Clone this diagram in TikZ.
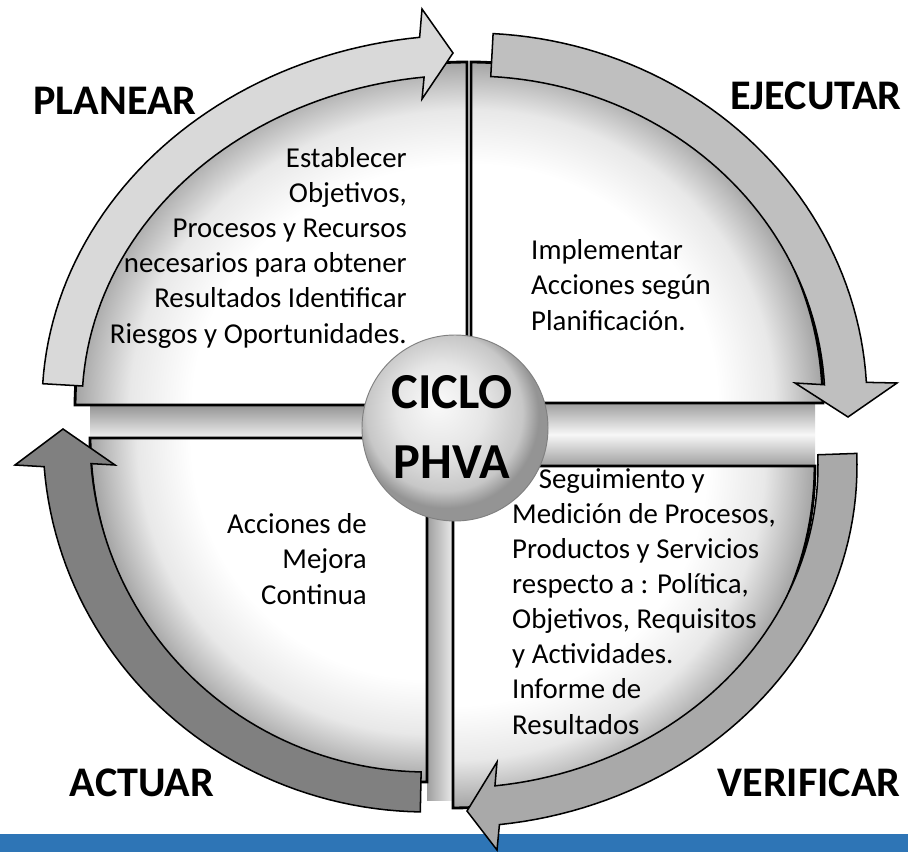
\documentclass[tikz,border=0pt]{standalone}
\usepackage{fontspec}
\setmainfont{Carlito}
\usetikzlibrary{calc}
\pgfdeclareradialshading{quadsh}{\pgfpoint{0bp}{0bp}}{color(0bp)=(white); color(17.5bp)=(white); color(21.5bp)=(black!9); color(24bp)=(black!28); color(25bp)=(black!36); color(50bp)=(black!36)}
\pgfdeclareradialshading{ballsh}{\pgfpoint{-5bp}{7bp}}{color(0bp)=(black!2); color(12bp)=(black!10); color(21bp)=(black!22); color(25bp)=(black!42); color(50bp)=(black!42)}
\definecolor{arrA}{HTML}{D9D9D9}
\definecolor{arrB}{HTML}{BFBFBF}
\definecolor{arrC}{HTML}{A9A9A9}
\definecolor{arrD}{HTML}{808080}
\definecolor{barblue}{HTML}{2E75B6}
\tikzset{
  quad/.style={draw=black, line width=2.4pt, line join=miter},
  cyclearrow/.style={draw=black, line width=1.3pt, line join=miter},
  phase/.style={font=\fontsize{36}{42}\selectfont\bfseries, text=black, inner sep=0pt, anchor=base},
  body/.style={font=\fontsize{24.6}{29.9}\selectfont, inner sep=0pt, text=black},
  centertext/.style={font=\fontsize{43}{59.7}\selectfont\bfseries, inner sep=0pt, align=center, anchor=base},
}
\begin{document}
\begin{tikzpicture}[x=0.03cm,y=-0.03cm]
\useasboundingbox (0,0) rectangle (908,852);
\fill[white] (0,0) rectangle (908,852);
% blue bar
\fill[barblue] (0,834) rectangle (908,852);

% 3D bands between the quarters
\shade[top color=black!42, bottom color=black!6] (90,405) rectangle (467,438);
\shade[top color=black!38, bottom color=black!38, middle color=black!3] (467,403) rectangle (815,466);
\shade[left color=black!38, right color=black!8] (427,438) rectangle (453,800);

% quarter TL
\begin{scope}
\clip (467,405) -- (75,405) -- plot[domain=180:270, samples=50] ({467+392*cos(\x)},{405+343*sin(\x)}) -- cycle;
\shade[shading=quadsh] (467,405) ellipse [x radius=11.76cm, y radius=10.29cm];
\end{scope}
\draw[quad] (467,405) -- (75,405) -- plot[domain=180:270, samples=50] ({467+392*cos(\x)},{405+343*sin(\x)}) -- cycle;

% quarter TR
\begin{scope}
\clip (471,403) -- plot[domain=270:360, samples=50] ({471+352*cos(\x)},{403+341*sin(\x)}) -- cycle;
\shade[shading=quadsh] (471,403) ellipse [x radius=10.56cm, y radius=10.23cm];
\end{scope}
\draw[quad] (471,403) -- plot[domain=270:360, samples=50] ({471+352*cos(\x)},{403+341*sin(\x)}) -- cycle;

% quarter BR
\begin{scope}
\clip (453,466) -- plot[domain=0:90, samples=50] ({453+362*cos(\x)},{466+342*sin(\x)}) -- cycle;
\shade[shading=quadsh] (453,466) ellipse [x radius=10.86cm, y radius=10.26cm];
\end{scope}
\draw[quad] (453,466) -- plot[domain=0:90, samples=50] ({453+362*cos(\x)},{466+342*sin(\x)}) -- cycle;

% quarter BL
\begin{scope}
\clip (427,438) -- plot[domain=90:180, samples=50] ({427+337*cos(\x)},{438+344*sin(\x)}) -- cycle;
\shade[shading=quadsh] (427,438) ellipse [x radius=10.11cm, y radius=10.32cm];
\end{scope}
\draw[quad] (427,438) -- plot[domain=90:180, samples=50] ({427+337*cos(\x)},{438+344*sin(\x)}) -- cycle;

% curved arrows
\draw[cyclearrow, fill=arrA] plot[domain=183.3:263.6, samples=50] ({467+425*cos(\x)},{405+370*sin(\x)}) -- (422,9) -- (453,53) -- (422,99) -- plot[domain=263.6:183.3, samples=50] ({467+385*cos(\x)},{405+330*sin(\x)}) -- cycle;
\draw[cyclearrow, fill=arrB] plot[domain=273.2:356.8, samples=50] ({471+396*cos(\x)},{403+370*sin(\x)}) -- (897,383) -- (848,417) -- (795,383) -- plot[domain=356.8:273.2, samples=50] ({471+354*cos(\x)},{403+327*sin(\x)}) -- cycle;
\draw[cyclearrow, fill=arrC] plot[domain=-2:83.4, samples=50] ({453+404*cos(\x)},{466+361*sin(\x)}) -- (497,850) -- (467,811) -- (497,762) -- plot[domain=83.4:-2, samples=50] ({453+365*cos(\x)},{466+322*sin(\x)}) -- cycle;
\draw[cyclearrow, fill=arrD] plot[domain=91:175.6, samples=50] ({427+384*cos(\x)},{438+374*sin(\x)}) -- (15,465) -- (63,429) -- (115,465) -- plot[domain=175.6:91, samples=50] ({427+337*cos(\x)},{438+334*sin(\x)}) -- cycle;

% centre disc
\shade[shading=ballsh] (455,428) circle [radius=2.79cm];
\draw[black!50, line width=0.8pt] (455,428) circle [radius=2.79cm];
\node[centertext] (centre) at (452,478) {CICLO\\PHVA};

% phase labels
\node[phase] (planear) at (115,115) {PLANEAR};
\node[phase] (ejecutar) at (816,110) {EJECUTAR};
\node[phase] (actuar) at (142,796) {ACTUAR};
\node[phase] (verificar) at (809,796) {VERIFICAR};

% quarter texts (base anchor = baseline of the last line)
\node[body, align=right, anchor=base east] (plantext) at (407,343) {Establecer\\Objetivos,\\Procesos y Recursos\\necesarios para obtener\\Resultados Identificar\\Riesgos y Oportunidades.};
\node[body, align=left, anchor=base west] (ejectext) at (531,330) {Implementar\\Acciones según\\Planificación.};
\node[body, align=right, anchor=base east] (acttext) at (367,604) {Acciones de\\Mejora\\Continua};
\node[body, align=left, anchor=base west] (vertext) at (512,734) {\hspace*{0.8cm}Seguimiento y\\Medición de Procesos,\\Productos y Servicios\\respecto a : Política,\\Objetivos, Requisitos\\y Actividades.\\Informe de\\Resultados};
\end{tikzpicture}
\end{document}
